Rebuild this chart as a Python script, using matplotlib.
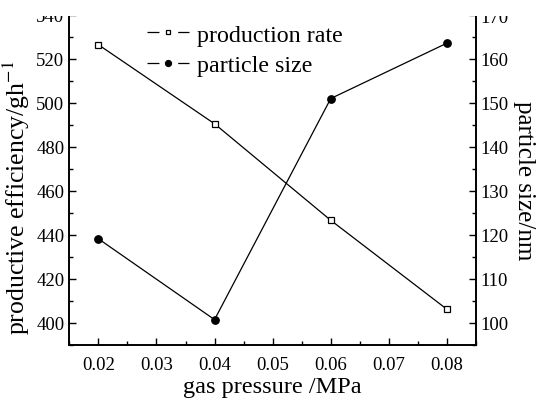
import matplotlib
matplotlib.use("Agg")
import matplotlib.pyplot as plt
from matplotlib.ticker import MultipleLocator
from matplotlib.patches import Rectangle
from matplotlib.lines import Line2D

plt.rcParams['font.family'] = ['Liberation Serif', 'DejaVu Serif']
plt.rcParams['mathtext.fontset'] = 'stix'
plt.rcParams['lines.scale_dashes'] = False

pressure = [0.02, 0.04, 0.06, 0.08]
production_rate = [526.5, 490.5, 446.6, 406.1]
particle_size = [119.1, 100.7, 151.0, 163.6]

W, H = 539, 406
fig = plt.figure(figsize=(W / 100, H / 100), dpi=100)
ax = fig.add_axes([69.3 / W, 1 - 345.7 / H, (476 - 69.3) / W, (345.7 - 16) / H])
ax2 = ax.twinx()

ax.plot(pressure, production_rate, color='black', lw=0.9, marker='s',
        markersize=4.6, markerfacecolor='white', markeredgecolor='black',
        markeredgewidth=0.9)
ax2.plot(pressure, particle_size, color='black', lw=0.9, marker='o',
         markersize=5.3, markerfacecolor='black', markeredgecolor='black')

ax.set_xlim(0.015, 0.085)
ax.set_ylim(390, 540)
ax2.set_ylim(95, 170)

ax.xaxis.set_major_locator(MultipleLocator(0.01))
ax.xaxis.set_minor_locator(MultipleLocator(0.005))
ax.yaxis.set_major_locator(MultipleLocator(20))
ax.yaxis.set_minor_locator(MultipleLocator(10))
ax2.yaxis.set_major_locator(MultipleLocator(10))
ax2.yaxis.set_minor_locator(MultipleLocator(5))
ax.xaxis.set_major_formatter(plt.FuncFormatter(lambda v, p: f"{v:.2f}"))

for a in (ax, ax2):
    a.spines['top'].set_visible(False)
    for s in a.spines.values():
        s.set_linewidth(1.2)
    a.tick_params(which='major', direction='in', length=5, width=1, labelsize=13.5)
    a.tick_params(which='minor', direction='in', length=3, width=1)
ax.tick_params(axis='x', pad=8)

ax.set_xlabel('gas pressure /MPa', fontsize=17.5, labelpad=2)
ax.set_ylabel('productive efficiency/gh$^{-1}$', fontsize=18.5, labelpad=3)
ax.yaxis.label.set_y(0.45)
ax2.set_ylabel('particle size/nm', fontsize=18, rotation=270, labelpad=19)

# legend handles drawn Origin-style: line — marker — with gaps
h1 = Line2D([], [], color='black', lw=0.9, dashes=(8.6, 13.5), marker='s',
            markersize=3.4, markerfacecolor='white', markeredgecolor='black',
            markeredgewidth=0.9)
h2 = Line2D([], [], color='black', lw=0.9, dashes=(8.6, 13.5), marker='o',
            markersize=4.2, markerfacecolor='black', markeredgecolor='black')
leg = ax.legend(handles=[h1, h2], labels=['production rate', 'particle size'],
                loc='upper left', bbox_to_anchor=(0.192, 0.973),
                frameon=False, fontsize=17.3, handlelength=1.75, handletextpad=0.31,
                labelspacing=0.35, borderaxespad=0, borderpad=0, numpoints=1)

fig.add_artist(Rectangle((0, 1 - 17 / H), 1, 17 / H, transform=fig.transFigure,
                         facecolor='white', edgecolor='none', zorder=100))

fig.savefig('out.png', dpi=100)
